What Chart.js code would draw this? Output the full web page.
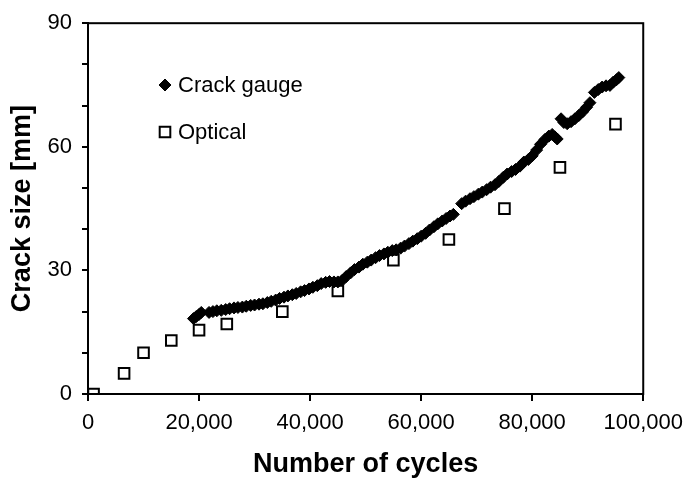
<!DOCTYPE html>
<html>
<head>
<meta charset="utf-8">
<script src="https://cdn.jsdelivr.net/npm/chart.js@4/dist/chart.umd.min.js"></script>
<style>
	html, body { margin: 0; padding: 0; background: #fff; }
	#wrap { width: 692px; height: 481px; }
</style>
</head>
<body>
<div id="wrap"><canvas id="crackChart" width="692" height="481"></canvas></div>
<script>
// crack gauge readings (cycles, crack size in mm)
const gaugeCycles = [
	19000, 19500, 20000, 20400, 21800, 22500, 23200, 24000, 24800, 25500,
	26300, 27000, 27800, 28500, 29300, 30000, 30800, 31500, 32300, 33000,
	33800, 34500, 35300, 36000, 36800, 37500, 38300, 39000, 39800, 40500,
	41300, 42000, 42800, 43500, 44300, 45000, 45800, 46500, 47300, 48000,
	48800, 49500, 50300, 51000, 51800, 52500, 53300, 54000, 54800, 55500,
	56300, 57000, 57800, 58500, 59300, 60000, 60800, 61500, 62300, 63000,
	63800, 64500, 65200, 65800, 67300, 68000, 68800, 69500, 70300, 71000,
	71800, 72500, 73300, 74000, 74800, 75500, 76300, 77000, 77800, 78500,
	79300, 80000, 80800, 81500, 82300, 83000, 83600, 84100, 84500, 85200,
	85700, 86300, 87000, 87700, 88400, 89100, 89800, 90400, 91200, 91900,
	92600, 93300, 94000, 94600, 95200, 95600
];
const gaugeMm = [
	18.3, 18.8, 19.3, 19.8, 19.8, 20.0, 20.2, 20.3, 20.5, 20.7,
	20.9, 21.0, 21.1, 21.3, 21.5, 21.6, 21.8, 21.9, 22.2, 22.5,
	22.8, 23.2, 23.5, 23.8, 24.1, 24.4, 24.8, 25.1, 25.5, 25.9,
	26.3, 26.8, 27.1, 27.3, 27.2, 27.2, 27.6, 28.5, 29.4, 30.2,
	30.8, 31.5, 32.0, 32.5, 33.1, 33.6, 34.0, 34.4, 34.8, 35.0,
	35.4, 35.9, 36.5, 37.1, 37.7, 38.3, 39.0, 39.8, 40.6, 41.3,
	42.0, 42.6, 43.2, 43.6, 46.2, 46.8, 47.4, 47.9, 48.5, 49.0,
	49.6, 50.2, 50.8, 51.6, 52.6, 53.4, 54.0, 54.5, 55.3, 56.3,
	56.9, 57.8, 59.2, 60.6, 61.8, 62.6, 63.0, 62.4, 61.9, 66.8,
	65.9, 65.6, 66.1, 66.8, 67.6, 68.5, 69.6, 70.7, 73.2, 73.9,
	74.5, 74.8, 74.9, 75.7, 76.3, 76.8
];

// optical measurements
const opticalCycles = [1000, 6500, 10000, 15000, 20000, 25000, 35000, 45000, 55000, 65000, 75000, 85000, 95000];
const opticalMm = [0, 5, 10, 13, 15.5, 17, 20, 25, 32.5, 37.5, 45, 55, 65.5];

const seriesNames = ['Crack gauge', 'Optical'];
const xTitle = 'Number of cycles';
const yTitle = 'Crack size [mm]';

const toPoints = (xs, ys) => xs.map((x, i) => ({ x: x, y: ys[i] }));

/* frame around the plot area + legend inside it */
const framePlugin = {
	id: 'frame',
	afterDraw(chart) {
		const { ctx, chartArea: a } = chart;
		ctx.save();
		ctx.strokeStyle = '#000';
		ctx.lineWidth = 2;
		ctx.strokeRect(a.left, a.top, a.right - a.left, a.bottom - a.top);

		// legend
		const rows = [85, 132];
		ctx.font = '22px "Liberation Sans", Arial, sans-serif';
		ctx.textBaseline = 'middle';
		chart.data.datasets.forEach((ds, i) => {
			ctx.fillStyle = ds.backgroundColor;
			ctx.strokeStyle = ds.borderColor;
			ctx.lineWidth = ds.borderWidth;
			Chart.helpers.drawPoint(ctx, {
				pointStyle: ds.pointStyle,
				radius: ds.pointRadius,
				borderWidth: ds.borderWidth,
				rotation: 0
			}, 165, rows[i]);
			ctx.fillStyle = '#000';
			ctx.fillText(ds.label, 178, rows[i] + 1);
		});
		ctx.restore();
	}
};

const tickFont = { family: '"Liberation Sans", Arial, sans-serif', size: 22 };
const titleFont = { family: '"Liberation Sans", Arial, sans-serif', size: 27, weight: 'bold' };

new Chart(document.getElementById('crackChart'), {
	type: 'scatter',
	data: {
		datasets: [
			{
				label: seriesNames[0],
				data: toPoints(gaugeCycles, gaugeMm),
				pointStyle: 'rectRot',
				pointRadius: 6,
				backgroundColor: '#000',
				borderColor: '#000',
				borderWidth: 1
			},
			{
				label: seriesNames[1],
				data: toPoints(opticalCycles, opticalMm),
				pointStyle: 'rect',
				pointRadius: 7.5,
				backgroundColor: '#fff',
				borderColor: '#000',
				borderWidth: 2
			}
		]
	},
	options: {
		responsive: false,
		animation: false,
		layout: { padding: { top: 20, right: 44, left: 0, bottom: 0 } },
		plugins: {
			legend: { display: false },
			tooltip: { enabled: false }
		},
		scales: {
			x: {
				type: 'linear',
				min: 0,
				max: 100000,
				ticks: {
					stepSize: 20000,
					color: '#000',
					font: tickFont,
					padding: 9,
					maxRotation: 0,
					callback: v => v.toLocaleString('en-US')
				},
				grid: { drawOnChartArea: false, drawTicks: true, tickLength: 7, color: '#000', lineWidth: 2 },
				border: { display: true, color: '#000', width: 2 },
				title: { display: true, text: xTitle, color: '#000', font: titleFont, padding: { top: 0, bottom: 0 } },
				afterFit(scale) { scale.height = 87; }
			},
			y: {
				min: 0,
				max: 90,
				ticks: {
					stepSize: 10,
					color: '#000',
					font: tickFont,
					padding: 10,
					callback: v => (v % 30 === 0 ? v : '')
				},
				grid: { drawOnChartArea: false, drawTicks: true, tickLength: 6, color: '#000', lineWidth: 2 },
				border: { display: true, color: '#000', width: 2 },
				title: { display: true, text: yTitle, color: '#000', font: titleFont, padding: { top: 6, bottom: 0 } },
				afterFit(scale) { scale.width = 88; }
			}
		}
	},
	plugins: [framePlugin]
});
</script>
</body>
</html>
